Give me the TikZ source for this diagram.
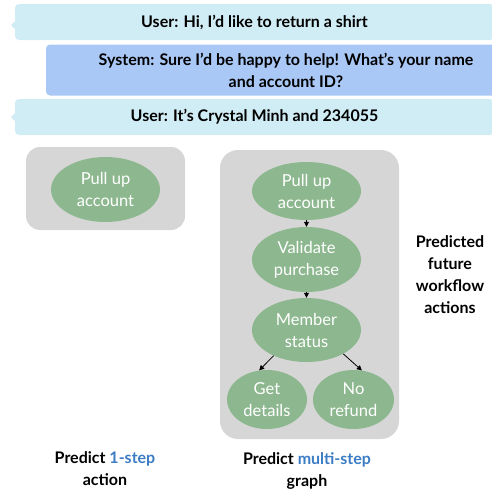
\documentclass[tikz,border=0pt]{standalone}
\usepackage{fontspec}
\setmainfont{Lato}
\usetikzlibrary{shapes.geometric,arrows.meta}
\definecolor{userbub}{HTML}{D0ECF4}
\definecolor{sysbub}{HTML}{A9C8F6}
\definecolor{panel}{HTML}{D6D6D6}
\definecolor{act}{HTML}{8DB88F}
\definecolor{hl}{HTML}{3B7CC4}
\begin{document}
\begin{tikzpicture}[x=1pt,y=-1pt,
  bubble/.style={rectangle,rounded corners=4pt,inner sep=0pt,font=\fontsize{16}{22}\selectfont\bfseries,align=center},
  panelbox/.style={rectangle,fill=panel,inner sep=0pt},
  action/.style={ellipse,fill=act,inner sep=0pt,text=white,font=\fontsize{16.5}{22}\selectfont,align=center},
  caption/.style={font=\fontsize{16}{22}\selectfont\bfseries,align=center,inner sep=0pt},
  flow/.style={-{Triangle[length=5pt,width=5pt]},line width=0.8pt}]
\useasboundingbox (0,0) rectangle (492,493);
% chat bubbles
\fill[userbub] (17,19) -- (11,25) -- (17,31) -- cycle;
\node[bubble,fill=userbub,minimum width=479pt,minimum height=36pt] (u1) at (254.5,22) {User: Hi, I’d like to return a shirt};
\node[bubble,fill=sysbub,minimum width=480pt,minimum height=51pt] (s1) at (286,70) {System: Sure I’d be happy to help! What’s your name\\and account ID?};
\fill[userbub] (17,111) -- (11,117) -- (17,123) -- cycle;
\node[bubble,fill=userbub,minimum width=479pt,minimum height=36pt] (u2) at (254.5,117) {User: It’s Crystal Minh and 234055};
% panels
\node[panelbox,rounded corners=14pt,minimum width=159pt,minimum height=83pt] (p1) at (105.5,188.5) {};
\node[panelbox,rounded corners=18pt,minimum width=179pt,minimum height=289pt] (p2) at (309.5,294.5) {};
% one-step
\node[action,minimum width=109pt,minimum height=65pt] (a1) at (105.5,189.5) {Pull up\\account};
% multi-step
\node[action,minimum width=109pt,minimum height=58pt] (b1) at (306.5,191) {Pull up\\account};
\node[action,minimum width=109pt,minimum height=65pt] (b2) at (306.5,259.5) {Validate\\purchase};
\node[action,minimum width=109pt,minimum height=64pt] (b3) at (306.5,330) {Member\\status};
\node[action,minimum width=80pt,minimum height=59pt] (b4) at (267,399.5) {Get\\details};
\node[action,minimum width=81pt,minimum height=59pt] (b5) at (353.5,399.5) {No\\refund};
\draw[flow] (b1.south) -- (b2.north);
\draw[flow] (b2.south) -- (b3.north);
\draw[flow] (b3.218) -- (b4.105);
\draw[flow] (b3.327) -- (b5.74);
% captions
\node[caption] (c1) at (105,469) {Predict \textcolor{hl}{1-step}\\action};
\node[caption] (c2) at (307,471) {Predict \textcolor{hl}{multi-step}\\graph};
\node[caption] (c3) at (450,275) {Predicted\\future\\workflow\\actions};
\end{tikzpicture}
\end{document}
